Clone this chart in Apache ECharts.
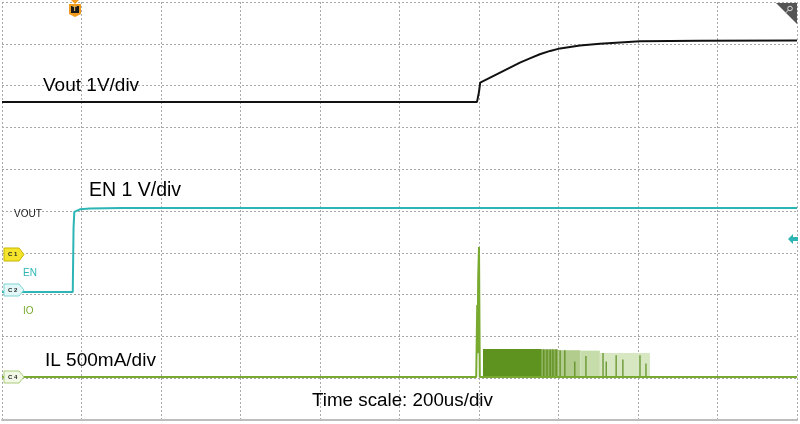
<!DOCTYPE html>
<html>
<head>
<meta charset="utf-8">
<script src="https://cdn.jsdelivr.net/npm/echarts@6/dist/echarts.min.js"></script>
<style>
html,body{margin:0;padding:0;background:#fff;}
#chart{width:800px;height:424px;}
</style>
</head>
<body>
<div id="chart"></div>
<script>
// Time axis in microseconds (200 us/div, 10 divisions), vertical axis in screen divisions
const timeTicks = [0, 200, 400, 600, 800, 1000, 1200, 1400, 1600, 1800, 2000];
const divTicks = [0, 1, 2, 3, 4, 5, 6, 7, 8, 9, 10];

// Vout trace (C1, 1V/div) [time us, division]
const voutTrace = [[0,7.61],[1195,7.61],[1200,7.85],[1203,8.07],[1253,8.31],[1303,8.55],[1328,8.65],[1353,8.75],[1379,8.83],[1404,8.89],[1454,8.96],[1504,9.00],[1555,9.03],[1605,9.06],[1756,9.07],[2000,9.08]];

// EN trace (C2, 1V/div)
const enTrace = [[0,3.06],[178,3.06],[180,4.6],[182,4.98],[186,5.02],[196,5.04],[221,5.06],[300,5.07],[2000,5.07]];

// IL trace (C4, 500mA/div) baseline and inrush spike
const ilTrace = [[0,1.03],[1193,1.03],[1195.5,2.75],[1196.5,1.6],[1198,3.42],[1200,4.14],[1202,1.03],[2000,1.03]];
const ilBase = 1.03;

// Switching burst envelope: [start us, end us, top division, density level]
const burstBands = [[1210,1358,1.70,0],[1358,1399,1.69,1],[1399,1455,1.67,2],[1455,1504,1.66,3],[1504,1630,1.60,4]];
// Individually visible darker pulses: [time us, top division]
const burstStripes = [[1363,1.69],[1371,1.69],[1379,1.69],[1386,1.69],[1394,1.69],[1404,1.67],[1416,1.67],[1441,1.40],[1469,1.53],[1512,1.60],[1520,1.40],[1545,1.55],[1562,1.45],[1605,1.55],[1620,1.35]];

const bandColors = ['#5f931f','#8db25a','#b2cc8d','#c6dcaa','#d6e7c2'];
const gridColor = '#a9a9a9';

const chart = echarts.init(document.getElementById('chart'), null, {renderer:'canvas'});

const option = {
  animation: false,
  backgroundColor: '#ffffff',
  grid: {left: 2, right: 3, top: 2, bottom: 4, outerBoundsMode: 'none', containLabel: false},
  xAxis: {
    type: 'value', min: timeTicks[0], max: timeTicks[timeTicks.length-1], interval: 200,
    axisLabel: {show: false}, axisTick: {show: false},
    axisLine: {show: true, onZero: false, lineStyle: {color: '#bdbdbd', width: 2}},
    splitLine: {show: true, lineStyle: {color: gridColor, type: [2,2], width: 1}}
  },
  yAxis: {
    type: 'value', min: divTicks[0], max: divTicks[divTicks.length-1], interval: 1,
    axisLabel: {show: false}, axisTick: {show: false}, axisLine: {show: false},
    splitLine: {show: true, lineStyle: {color: gridColor, type: [2,2], width: 1}}
  },
  series: [
    {
      type: 'custom', name: 'burst', data: burstBands, z: 2, silent: true,
      renderItem: function(params, api){
        const p0 = api.coord([api.value(0), api.value(2)]);
        const p1 = api.coord([api.value(1), ilBase]);
        return {type:'rect', shape:{x:p0[0], y:p0[1], width:p1[0]-p0[0], height:p1[1]-p0[1]},
                style:{fill: bandColors[api.value(3)]}};
      }
    },
    {
      type: 'custom', name: 'pulses', data: burstStripes, z: 3, silent: true,
      renderItem: function(params, api){
        const p0 = api.coord([api.value(0), api.value(1)]);
        const p1 = api.coord([api.value(0), ilBase]);
        return {type:'line', shape:{x1:p0[0], y1:p0[1], x2:p1[0], y2:p1[1]},
                style:{stroke:'#5a8c1c', lineWidth:1.2}};
      }
    },
    {type:'line', name:'IL', data: ilTrace, symbol:'none', z: 4, silent: true,
     lineStyle:{color:'#78aa30', width:2}},
    {type:'line', name:'EN', data: enTrace, symbol:'none', z: 4, silent: true,
     lineStyle:{color:'#2db5b6', width:2}},
    {type:'line', name:'Vout', data: voutTrace, symbol:'none', z: 4, silent: true,
     lineStyle:{color:'#111111', width:2}}
  ],
  graphic: [
    {type:'text', left: 43, top: 76, z: 10, style:{text:'Vout 1V/div', font:'19px "Liberation Sans", Arial, sans-serif', fill:'#000'}},
    {type:'text', left: 89, top: 181, z: 10, style:{text:'EN 1 V/div', font:'19.5px "Liberation Sans", Arial, sans-serif', fill:'#000'}},
    {type:'text', left: 45, top: 351, z: 10, style:{text:'IL 500mA/div', font:'19px "Liberation Sans", Arial, sans-serif', fill:'#000'}},
    {type:'text', left: 312, top: 391, z: 10, style:{text:'Time scale: 200us/div', font:'18.8px "Liberation Sans", Arial, sans-serif', fill:'#000'}},
    {type:'text', left: 14, top: 209, z: 10, style:{text:'VOUT', font:'10px "Liberation Sans", Arial, sans-serif', fill:'#222'}},
    {type:'text', left: 23, top: 268, z: 10, style:{text:'EN', font:'10px "Liberation Sans", Arial, sans-serif', fill:'#2db5b6'}},
    {type:'text', left: 23, top: 306, z: 10, style:{text:'IO', font:'10px "Liberation Sans", Arial, sans-serif', fill:'#78aa30'}},
    // channel tags
    {type:'polygon', z: 10, shape:{points:[[4,248],[19,248],[24,254.5],[19,261],[4,261]]}, style:{fill:'#f4e52c', stroke:'#c9b400', lineWidth:1}},
    {type:'text', z: 11, left: 8, top: 251, style:{text:'C 1', font:'bold 6px "Liberation Sans", Arial, sans-serif', fill:'#222'}},
    {type:'polygon', z: 10, shape:{points:[[4,284],[19,284],[24,290],[19,296],[4,296]]}, style:{fill:'#e2f8f8', stroke:'#7fd3d3', lineWidth:1}},
    {type:'text', z: 11, left: 8, top: 287, style:{text:'C 2', font:'bold 6px "Liberation Sans", Arial, sans-serif', fill:'#222'}},
    {type:'polygon', z: 10, shape:{points:[[4,371],[19,371],[24,377],[19,383],[4,383]]}, style:{fill:'#f2f8e6', stroke:'#a9cc78', lineWidth:1}},
    {type:'text', z: 11, left: 8, top: 374, style:{text:'C 4', font:'bold 6px "Liberation Sans", Arial, sans-serif', fill:'#222'}},
    // trigger marker
    {type:'polygon', z: 10, shape:{points:[[71,0],[79,0],[75,4]]}, style:{fill:'#f09a1e'}},
    {type:'polygon', z: 10, shape:{points:[[69,4],[81,4],[81,14],[75,17],[69,14]]}, style:{fill:'#f09a1e'}},
    {type:'rect', z: 11, shape:{x:71, y:6, width:8, height:7}, style:{fill:'#1a1a1a'}},
    {type:'text', z: 12, left: 72.5, top: 6, style:{text:'T', font:'bold 7px "Liberation Sans", Arial, sans-serif', fill:'#f5c060'}},
    // top-right corner icon
    {type:'polygon', z: 10, shape:{points:[[776,3],[797,3],[797,24]]}, style:{fill:'#555'}},
    {type:'circle', z: 11, shape:{cx:790, cy:8.5, r:2.3}, style:{fill:'none', stroke:'#ddd', lineWidth:1}},
    {type:'line', z: 11, shape:{x1:788.5, y1:10, x2:785, y2:13.5}, style:{stroke:'#ddd', lineWidth:1}},
    // right side EN level arrow
    {type:'polygon', z: 10, shape:{points:[[788,239],[793,234],[793,237],[798,237],[798,241],[793,241],[793,244]]}, style:{fill:'#2db5b6'}}
  ]
};
chart.setOption(option);
</script>
</body>
</html>
